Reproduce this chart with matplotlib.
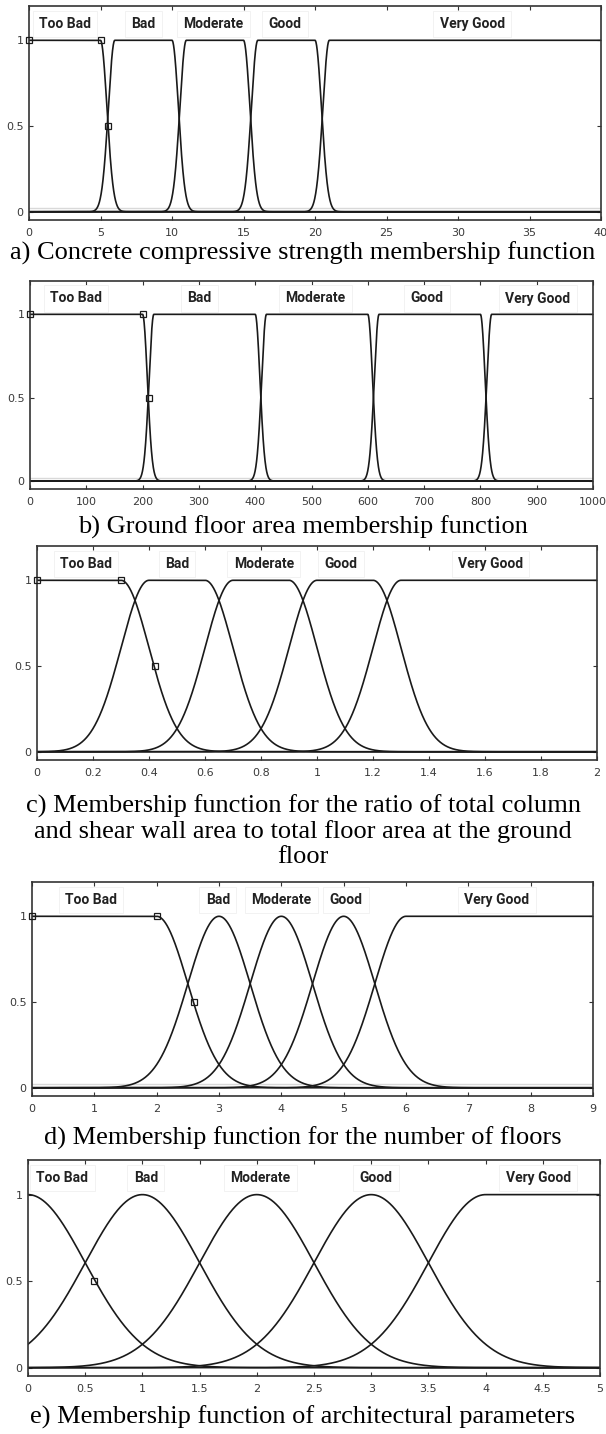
import numpy as np
import matplotlib
matplotlib.use('Agg')
import matplotlib.pyplot as plt
from matplotlib.ticker import FuncFormatter

W, H = 606, 1434

labels = ['Too Bad', 'Bad', 'Moderate', 'Good', 'Very Good']

# a) concrete compressive strength
a_xmax = 40
a_sigma = 0.45
a_left = [0, 6, 11, 16, 21]
a_right = [5, 10, 15, 20, 40]
a_xticks = [0, 5, 10, 15, 20, 25, 30, 35, 40]
a_label_x = [2.5, 8.0, 12.9, 17.9, 31.0]
a_marks_x = [0, 5, 5.55]
a_marks_y = [1, 1, 0.5]

# b) ground floor area
b_xmax = 1000
b_sigma = 8.5
b_left = [0, 220, 420, 620, 820]
b_right = [200, 400, 600, 800, 1000]
b_xticks = [0, 100, 200, 300, 400, 500, 600, 700, 800, 900, 1000]
b_label_x = [82, 301, 507, 705, 902]
b_marks_x = [0, 200, 211]
b_marks_y = [1, 1, 0.5]

# c) column + shear wall area ratio
c_xmax = 2
c_sigma = 0.1
c_left = [0, 0.4, 0.7, 1.0, 1.3]
c_right = [0.3, 0.6, 0.9, 1.2, 2]
c_xticks = [0, 0.2, 0.4, 0.6, 0.8, 1, 1.2, 1.4, 1.6, 1.8, 2]
c_label_x = [0.175, 0.50, 0.81, 1.085, 1.62]
c_marks_x = [0, 0.3, 0.42]
c_marks_y = [1, 1, 0.5]

# d) number of floors
d_xmax = 9
d_sigma = 0.5
d_left = [0, 3, 4, 5, 6]
d_right = [2, 3, 4, 5, 9]
d_xticks = [0, 1, 2, 3, 4, 5, 6, 7, 8, 9]
d_label_x = [0.95, 2.98, 4.0, 5.04, 7.46]
d_marks_x = [0, 2, 2.6]
d_marks_y = [1, 1, 0.5]

# e) architectural parameters
e_xmax = 5
e_sigma = 0.5
e_left = [0, 1, 2, 3, 4]
e_right = [0, 1, 2, 3, 5]
e_xticks = [0, 0.5, 1, 1.5, 2, 2.5, 3, 3.5, 4, 4.5, 5]
e_label_x = [0.30, 1.03, 2.03, 3.04, 4.46]
e_marks_x = [0.58]
e_marks_y = [0.5]

captions = [
    'a) Concrete compressive strength membership function',
    'b) Ground floor area membership function',
    'c) Membership function for the ratio of total column\nand shear wall area to total floor area at the ground\nfloor',
    'd) Membership function for the number of floors',
    'e) Membership function of architectural parameters',
]


def gauss2mf(x, s, c1, c2):
    y = np.ones_like(x)
    y = np.where(x < c1, np.exp(-(x - c1) ** 2 / (2 * s ** 2)), y)
    y = np.where(x > c2, y * np.exp(-(x - c2) ** 2 / (2 * s ** 2)), y)
    return y


def fmt(v, pos):
    return '%g' % v


# pixel boxes: left, right, top, bottom
boxes = [(29, 601, 6, 220), (30, 593, 281, 489), (37, 597, 546, 760),
         (32, 593, 882, 1096), (28, 600, 1160, 1376)]
cap_y = [253, 527, 831, 1138, 1417]

panels = [
    (a_xmax, a_sigma, a_left, a_right, a_xticks, a_label_x, a_marks_x, a_marks_y),
    (b_xmax, b_sigma, b_left, b_right, b_xticks, b_label_x, b_marks_x, b_marks_y),
    (c_xmax, c_sigma, c_left, c_right, c_xticks, c_label_x, c_marks_x, c_marks_y),
    (d_xmax, d_sigma, d_left, d_right, d_xticks, d_label_x, d_marks_x, d_marks_y),
    (e_xmax, e_sigma, e_left, e_right, e_xticks, e_label_x, e_marks_x, e_marks_y),
]

fig = plt.figure(figsize=(W / 100, H / 100), dpi=100)

for i, (xmax, sig, left, right, xticks, lab_x, mx, my) in enumerate(panels):
    l, r, t, b = boxes[i]
    ax = fig.add_axes([l / W, 1 - b / H, (r - l) / W, (b - t) / H])
    x = np.linspace(0, xmax, 3000)
    for k in range(len(labels)):
        ax.plot(x, gauss2mf(x, sig, left[k], right[k]), color='#1a1a1a', lw=1.2)
    if i in (0, 1, 3):
        ax.axhline(0.02, color='#d9d9d9', lw=1, zorder=0)
    ax.plot(mx, my, ls='none', marker='s', ms=5, mfc='none', mec='#1a1a1a',
            mew=0.9, clip_on=False, zorder=5)
    for k, name in enumerate(labels):
        ax.text(lab_x[k], 1.095, name, ha='center', va='center', fontsize=10,
                fontweight='bold', family='Roboto', color='#222222',
                bbox=dict(boxstyle='square,pad=0.45', fc='white', ec='#f0f0f0', lw=0.6))
    ax.set_xlim(0, xmax)
    ax.set_ylim(-0.048, 1.2)
    ax.set_xticks(xticks)
    ax.set_yticks([0, 0.5, 1])
    ax.xaxis.set_major_formatter(FuncFormatter(fmt))
    ax.yaxis.set_major_formatter(FuncFormatter(fmt))
    ax.tick_params(direction='in', top=True, right=True, length=3, width=0.8,
                   labelsize=8, labelcolor='#3a3a3a', color='#333333')
    ax.tick_params(axis='x', pad=6)
    ax.tick_params(axis='y', pad=4)
    for sp in ax.spines.values():
        sp.set_linewidth(1.2)
        sp.set_color('#333333')

    fig.text(0.5, 1 - cap_y[i] / H, captions[i], ha='center', va='center',
             fontsize=19, family='Liberation Serif', linespacing=1.15)

plt.savefig('out.png', dpi=100)
